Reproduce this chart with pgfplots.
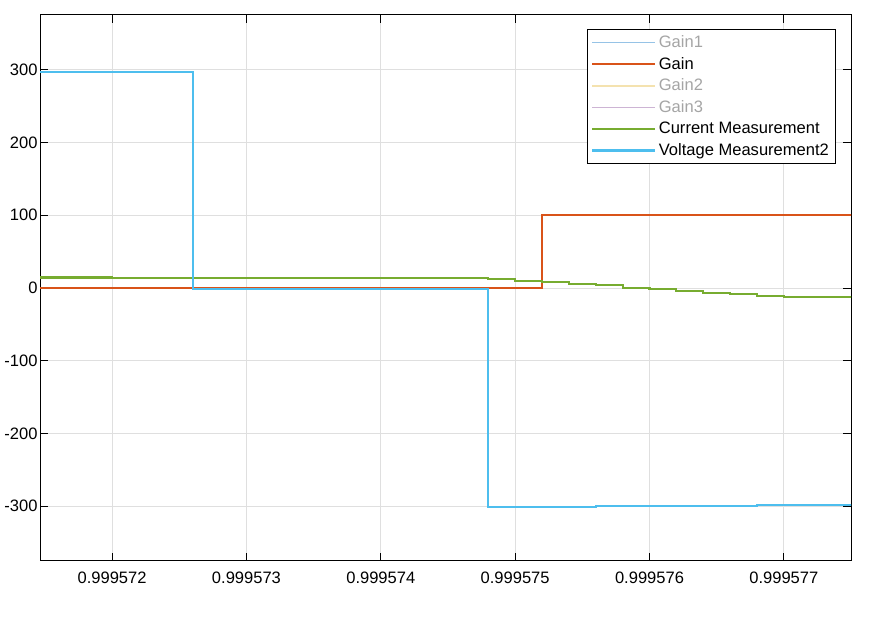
\documentclass[border=0pt]{standalone}
\usepackage{pgfplots}
\pgfplotsset{compat=1.18}
\usepackage{fontspec}
\setmainfont{Liberation Sans}
\usetikzlibrary{calc}
\definecolor{cgain}{RGB}{217,83,25}
\definecolor{ccur}{RGB}{119,172,48}
\definecolor{cvolt}{RGB}{77,190,238}
\definecolor{fg1}{RGB}{150,195,230}
\definecolor{fg2}{RGB}{244,226,175}
\definecolor{fg3}{RGB}{205,180,212}
\definecolor{fgtext}{RGB}{165,165,165}
\definecolor{gridc}{RGB}{223,223,223}
\begin{document}
\begin{tikzpicture}
\begin{axis}[
  scale only axis,
  width=608.25pt, height=409.5pt,
  xmin=1.465, xmax=7.5,
  ymin=-375, ymax=375,
  xtick={2,3,4,5,6,7},
  xticklabels={0.999572,0.999573,0.999574,0.999575,0.999576,0.999577},
  ytick={-300,-200,-100,0,100,200,300},
  /pgf/number format/assume math mode=true,
  tick align=inside,
  major tick length=6pt,
  tick style={black, line width=0.6pt},
  axis line style={black, line width=0.75pt},
  grid=major,
  major grid style={gridc, line width=0.6pt},
  ticklabel style={font=\fontsize{12.4}{14}\selectfont},
  xticklabel style={yshift=-4.5pt},
  yticklabel style={xshift=1.5pt},
  legend cell align=left,
  legend style={at={(0.9815,0.9744)}, anchor=north east, draw=black, line width=0.75pt,
    font=\fontsize{12.4}{14}\selectfont, inner xsep=3pt, inner ysep=2.5pt,
    row sep=1.8pt, fill=white},
  legend image code/.code={\draw[#1] (0pt,0pt) -- (47pt,0pt);},
]
\addlegendimage{fg1, line width=1.2pt}
\addlegendentry{\textcolor{fgtext}{Gain1}}
\addplot[const plot, cgain, line width=1.5pt] coordinates {
  (1.4,0) (5.2,100) (7.6,100)};
\addlegendentry{Gain}
\addlegendimage{fg2, line width=1.2pt}
\addlegendentry{\textcolor{fgtext}{Gain2}}
\addlegendimage{fg3, line width=1.2pt}
\addlegendentry{\textcolor{fgtext}{Gain3}}
\addplot[const plot, ccur, line width=1.6pt] coordinates {
  (1.4,14.3) (2.0,14.2) (2.6,14.1) (3.2,13.9) (3.8,13.8) (4.4,13.6)
  (4.8,12.0) (5.0,9.6) (5.2,8.2) (5.4,5.1) (5.6,3.7) (5.8,0.4)
  (6.0,-1.8) (6.2,-4.1) (6.4,-6.5) (6.6,-8.7) (6.8,-11.0) (7.0,-12.8) (7.6,-12.8)};
\addlegendentry{Current Measurement}
\addplot[const plot, cvolt, line width=1.6pt] coordinates {
  (1.4,297) (2.6,-1.5) (4.8,-300.5) (5.6,-300.2) (6.2,-299.5) (6.8,-298.5) (7.0,-298) (7.6,-297.5)};
\addlegendentry{Voltage Measurement2}
\end{axis}
\path ($(current axis.south west)+(-30pt,-43.5pt)$) rectangle ($(current axis.north east)+(18pt,11.25pt)$);
\end{tikzpicture}
\end{document}
